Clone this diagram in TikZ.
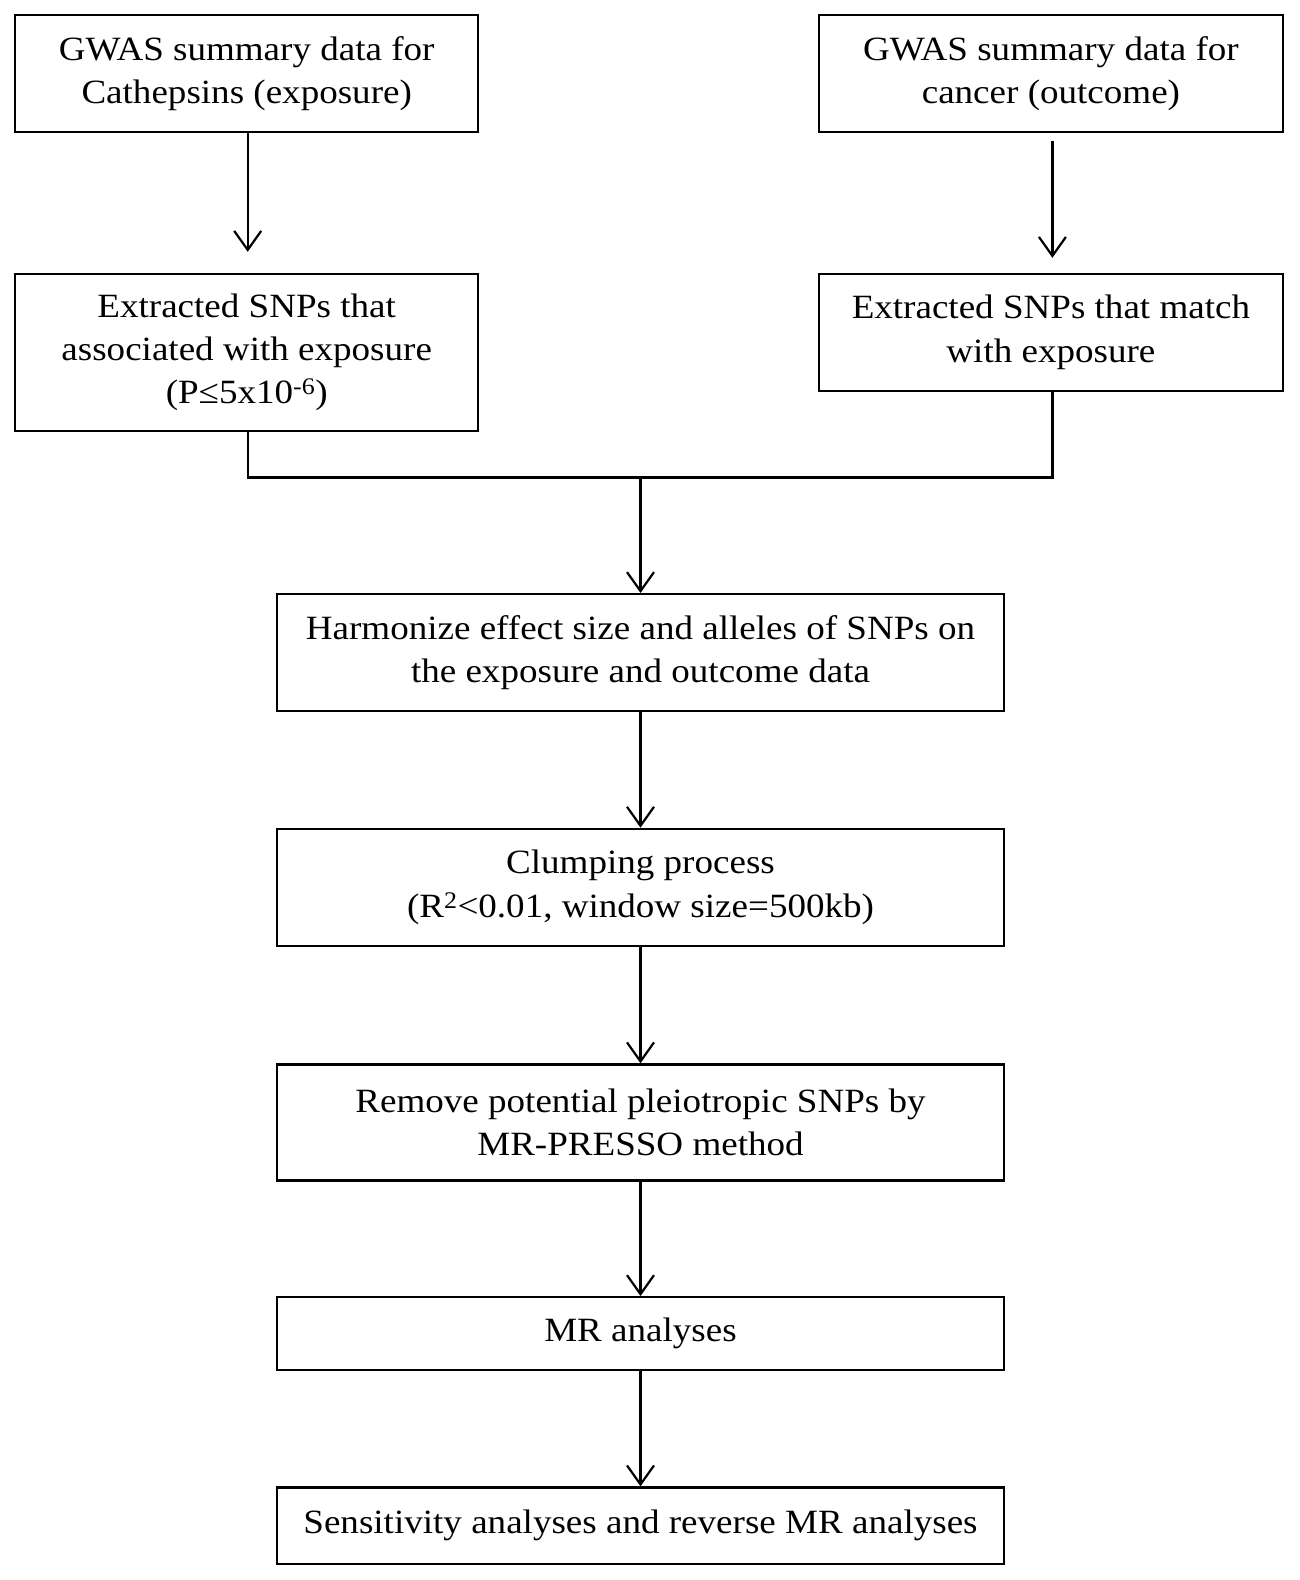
\documentclass[tikz,border=0pt]{standalone}
\usepackage{fontspec}
\setmainfont[FakeStretch=1.09]{Liberation Serif}
\usetikzlibrary{arrows.meta}
\begin{document}
\begin{tikzpicture}[x=1pt,y=-1pt,
  box/.style={draw=black,line width=2.2pt,rectangle,inner sep=0pt,align=center,
    font=\fontsize{34}{43.3}\selectfont},
  conn/.style={draw=black,line width=2.2pt},
  arr/.style={conn,-{Straight Barb[length=19pt,width=27pt,line width=2.2pt]}}]
\useasboundingbox (0,0) rectangle (1299,1580);
\fill[white] (0,0) rectangle (1299,1580);
\node[box,minimum width=463pt,minimum height=116.5pt] (b1) at (246.7,73.5)
  {GWAS summary data for\\Cathepsins (exposure)};
\node[box,minimum width=464pt,minimum height=116.5pt] (b2) at (1050.9,73.5)
  {GWAS summary data for\\cancer (outcome)};
\node[box,minimum width=463pt,minimum height=157pt] (b3) at (246.7,352.5)
  {Extracted SNPs that\\associated with exposure\\(P≤5x10\textsuperscript{-6})};
\node[box,minimum width=464pt,minimum height=117pt] (b4) at (1050.9,332.3)
  {Extracted SNPs that match\\with exposure};
\node[box,minimum width=727pt,minimum height=117pt] (b5) at (640.5,652.6)
  {Harmonize effect size and alleles of SNPs on\\the exposure and outcome data};
\node[box,minimum width=727pt,minimum height=117pt] (b6) at (640.5,887.3)
  {Clumping process\\(R\textsuperscript{2}<0.01, window size=500kb)};
\node[box,minimum width=727pt,minimum height=116pt] (b7) at (640.5,1122.4)
  {Remove potential pleiotropic SNPs by\\MR-PRESSO method};
\node[box,minimum width=727pt,minimum height=72.5pt] (b8) at (640.5,1333.4)
  {MR analyses};
\node[box,minimum width=727pt,minimum height=76.5pt] (b9) at (640.5,1525.7)
  {Sensitivity analyses and reverse MR analyses};
\coordinate (e1) at (247.7,251.8);
\coordinate (s2) at (1052.4,141);
\coordinate (e2) at (1052.4,257.8);
\coordinate (j) at (640.5,477.4);
\draw[arr] (b1.south -| e1) -- (e1);
\draw[arr] (s2) -- (e2);
\draw[conn] (b3.south -| e1) |- (j) -| (b4.south -| s2);
\draw[arr] (j) -- (b5.north -| j);
\draw[arr] (b5.south -| j) -- (b6.north -| j);
\draw[arr] (b6.south -| j) -- (b7.north -| j);
\draw[arr] (b7.south -| j) -- (b8.north -| j);
\draw[arr] (b8.south -| j) -- (b9.north -| j);
\end{tikzpicture}
\end{document}
